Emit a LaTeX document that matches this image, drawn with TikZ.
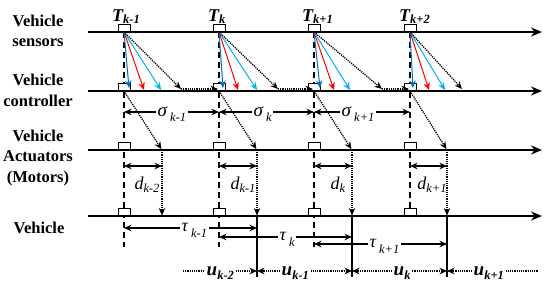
\documentclass[tikz,border=0pt]{standalone}
\usepackage{fontspec}
\setmainfont{Liberation Serif}
\usetikzlibrary{arrows.meta}
\definecolor{cdblue}{RGB}{0,112,192}
\definecolor{clblue}{RGB}{0,176,240}
\definecolor{cred}{RGB}{255,0,0}
\newcommand{\lbsub}[2]{\raisebox{#1}{\fontsize{12.5}{12.5}\selectfont #2}}
\begin{document}
\begin{tikzpicture}[x=1pt,y=-1pt,
  >={Stealth[length=7.5pt,width=6.5pt]},
  axis/.style={line width=1.7pt,-{Stealth[length=11pt,width=9pt]}},
  tickbox/.style={draw,fill=white,line width=1pt,minimum width=12pt,minimum height=7pt,inner sep=0pt,outer sep=0pt,anchor=south},
  dashv/.style={line width=1.5pt,dash pattern=on 6pt off 4pt},
  dotl/.style={line width=1.3pt,dash pattern=on 1.2pt off 1pt},
  sig/.style={line width=1.3pt},
  cdb/.style={cdblue,line width=1pt,->},
  crd/.style={cred,line width=1pt,->},
  clb/.style={clblue,line width=1pt,->},
  rowlab/.style={align=center,font=\bfseries\fontsize{16.5}{20.5}\selectfont},
  Tlab/.style={anchor=base west,inner sep=0pt,font=\bfseries\itshape\fontsize{18}{18}\selectfont},
  glab/.style={anchor=base west,inner sep=1.5pt,font=\itshape\fontsize{19}{19}\selectfont},
  dlab/.style={anchor=base,inner sep=0pt,font=\itshape\fontsize{18}{18}\selectfont},
  ulab/.style={anchor=base west,inner sep=1.5pt,font=\bfseries\itshape\fontsize{19}{19}\selectfont}
]
\useasboundingbox (0,0) rectangle (550,286);

% row labels
\node[rowlab] (lS) at (38,31) {Vehicle\\sensors};
\node[rowlab] (lC) at (38,90.5) {Vehicle\\controller};
\node[rowlab] (lA) at (38,158) {Vehicle\\Actuators\\(Motors)};
\node[rowlab] (lV) at (39,228) {Vehicle};

% axes
\coordinate (S0) at (88,32);  \coordinate (Se) at (542,32);
\coordinate (C0) at (88,91);  \coordinate (Ce) at (542,91);
\coordinate (A0) at (88,150); \coordinate (Ae) at (542,150);
\coordinate (V0) at (88,216); \coordinate (Ve) at (542,216);
\draw[axis] (S0) -- (Se);
\draw[axis] (C0) -- (Ce);
\draw[axis] (A0) -- (Ae);
\draw[axis] (V0) -- (Ve);

\foreach \i/\t/\a/\ob/\orr/\olb/\ok in {1/124/162/5/20/37/57, 2/219/257/4/19/38/59, 3/314/352/6/20/36/68, 4/410/447/3/19/35/52}{
  \coordinate (S\i) at (\t,32);
  \coordinate (C\i) at (\t,91);
  \coordinate (A\i) at (\t,150);
  \coordinate (V\i) at (\t,216);
  \coordinate (E\i) at (\t,247);
  \coordinate (H\i) at (\t-1,89);
  \coordinate (R\i) at (\a,150);
  \coordinate (Q\i) at (\a,216);
  \coordinate (dB\i) at (\t+\ob,88);
  \coordinate (dR\i) at (\t+\orr,90);
  \coordinate (dL\i) at (\t+\olb,90);
  \coordinate (dK\i) at (\t+\ok,89);
  \coordinate (dl\i) at (\t,166);
  \coordinate (dr\i) at (\a,166);
}
\coordinate (E4) at (410,216);

% dashed verticals
\foreach \i in {1,2,3,4}{ \draw[dashv] (S\i) -- (E\i); }

% tick boxes
\foreach \i in {1,2,3,4}{
  \node[tickbox] (bS\i) at (S\i) {};
  \node[tickbox] (bC\i) at (C\i) {};
  \node[tickbox] (bA\i) at (A\i) {};
  \node[tickbox] (bV\i) at (V\i) {};
}

% T labels
\node[Tlab] (T1) at (112,22) {T\lbsub{-2pt}{k-1}};
\node[Tlab] (T2) at (208,22) {T\lbsub{-2pt}{k}};
\node[Tlab] (T3) at (302,22) {T\lbsub{-2pt}{k+1}};
\node[Tlab] (T4) at (399,22) {T\lbsub{-2pt}{k+2}};

% sensor -> controller arrows
\foreach \i in {1,2,3,4}{
  \draw[cdb] (S\i) -- (dB\i);
  \draw[crd] (S\i) -- (dR\i);
  \draw[clb] (S\i) -- (dL\i);
  \draw[dotl,->] (S\i) -- (dK\i);
}
\draw[dotl,->] (dK1) -- (H2);
\draw[dotl,->] (dK2) -- (H3);
\draw[dotl,->] (dK3) -- (H4);

% controller -> actuator -> vehicle
\foreach \i in {1,2,3,4}{
  \draw[dotl,->,shorten >=1pt] (C\i) -- (R\i);
  \draw[dotl,->,shorten >=0.5pt] (R\i) -- (Q\i);
  \draw[sig,<->] (dl\i) -- (dr\i);
}

% d labels
\node[dlab] (d1) at (147,190) {d\lbsub{-2.5pt}{k-2}};
\node[dlab] (d2) at (243,190) {d\lbsub{-2.5pt}{k-1}};
\node[dlab] (d3) at (338,190) {d\lbsub{-2.5pt}{k}};
\node[dlab] (d4) at (432,190) {d\lbsub{-2.5pt}{k+1}};

% sigma
\node[glab] (g1) at (156,117) {σ\,\lbsub{-5pt}{k-1}};
\node[glab] (g2) at (252,117) {σ\,\lbsub{-5pt}{k}};
\node[glab] (g3) at (340,117) {σ\,\lbsub{-5pt}{k+1}};
\coordinate (y1) at (0,112);
\draw[sig,->] (g1.west |- y1) -- (S1 |- y1);
\draw[sig,->] (g1.east |- y1) -- (S2 |- y1);
\draw[sig,->] (g2.west |- y1) -- (S2 |- y1);
\draw[sig,->] (g2.east |- y1) -- (S3 |- y1);
\draw[sig,->] (g3.west |- y1) -- (S3 |- y1);
\draw[sig,->] (g3.east |- y1) -- (S4 |- y1);

% solid verticals at arrivals
\coordinate (W2) at (257,277);
\coordinate (W3) at (352,277);
\coordinate (W4) at (447,277);
\draw[line width=1.3pt] (Q2) -- (W2);
\draw[line width=1.3pt] (Q3) -- (W3);
\draw[line width=1.3pt] (Q4) -- (W4);

% tau
\node[glab,font=\itshape\fontsize{18}{18}\selectfont] (t1) at (180,232) {τ\,\lbsub{-6pt}{k-1}};
\node[glab,font=\itshape\fontsize{18}{18}\selectfont] (t2) at (278,241) {τ\,\lbsub{-6pt}{k}};
\node[glab,font=\itshape\fontsize{18}{18}\selectfont] (t3) at (368,248) {τ\,\lbsub{-6pt}{k+1}};
\coordinate (ty1) at (0,228);
\coordinate (ty2) at (0,237);
\coordinate (ty3) at (0,244);
\draw[sig,->] (t1.west |- ty1) -- (S1 |- ty1);
\draw[sig,->] (t1.east |- ty1) -- (Q2 |- ty1);
\draw[sig,->] (t2.west |- ty2) -- (S2 |- ty2);
\draw[sig,->] (t2.east |- ty2) -- (Q3 |- ty2);
\draw[sig,->] (t3.west |- ty3) -- (S3 |- ty3);
\draw[sig,->] (t3.east |- ty3) -- (Q4 |- ty3);

% u
\node[ulab] (u1) at (205,276) {u\lbsub{-4pt}{k-2}};
\node[ulab] (u2) at (280,276) {u\lbsub{-4pt}{k-1}};
\node[ulab] (u3) at (392,276) {u\lbsub{-4pt}{k}};
\node[ulab] (u4) at (472,276) {u\lbsub{-4pt}{k+1}};
\coordinate (uy) at (0,271);
\coordinate (us) at (183,271);
\coordinate (ue) at (538,271);
\draw[dotl] (us) -- (u1.west |- uy);
\draw[dotl,->] (u1.east |- uy) -- (W2 |- uy);
\draw[dotl,->] (u2.west |- uy) -- (W2 |- uy);
\draw[dotl,->] (u2.east |- uy) -- (W3 |- uy);
\draw[dotl,->] (u3.west |- uy) -- (W3 |- uy);
\draw[dotl,->] (u3.east |- uy) -- (W4 |- uy);
\draw[dotl,->] (u4.west |- uy) -- (W4 |- uy);
\draw[dotl] (u4.east |- uy) -- (ue);
\end{tikzpicture}
\end{document}
